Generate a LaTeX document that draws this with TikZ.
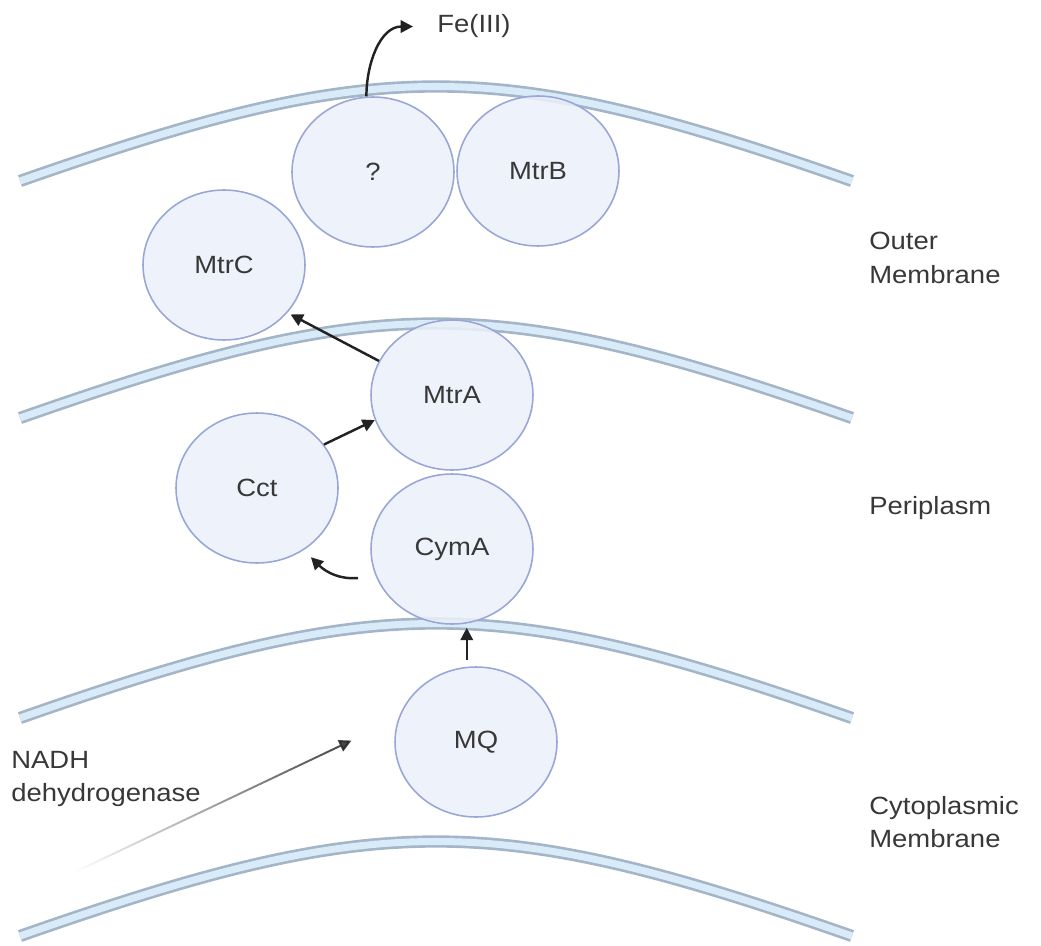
\documentclass[tikz,border=0pt]{standalone}
\usepackage{fontspec}
\setmainfont{Liberation Sans}
\usetikzlibrary{shapes.geometric,arrows.meta,fadings}

\definecolor{membraneedge}{HTML}{A3B5C6}
\definecolor{membranefill}{HTML}{D9EAF8}
\definecolor{proteinedge}{HTML}{9AA6D6}
\definecolor{proteinfill}{HTML}{EBF1FA}
\definecolor{labeltext}{HTML}{383838}
\definecolor{arrowink}{HTML}{222222}

\newcommand{\wide}[1]{\scalebox{1.1}[1]{#1}}
\newcommand{\membrane}[1]{\draw[membrane] (20,-#1) .. controls (380,{-#1+126}) and (492,{-#1+126}) .. (852,-#1);}

\tikzset{
  membrane/.style={draw=membraneedge, line width=1.5pt, double=membranefill, double distance=4pt},
  protein/.style={ellipse, draw=proteinedge, line width=0.9pt, fill=proteinfill, fill opacity=0.85, text opacity=1,
    minimum width=3.24cm, minimum height=3cm, inner sep=0pt},
  flow/.style={draw=arrowink, line width=1.4pt, -{Triangle[length=7pt,width=7pt]}},
}

\begin{document}
\begin{tikzpicture}[x=0.02cm, y=0.02cm, font=\fontsize{14.2}{19}\selectfont, text=labeltext, every node/.style={align=center}]
        \useasboundingbox (0,0) rectangle (1041,-946);

        % membranes
        \membrane{181}
        \membrane{418}
        \membrane{718}
        \membrane{936}

        % proteins
        \node[protein] (unknown) at (373,-172) {\wide{?}};
        \node[protein] (mtrb) at (538,-171) {\wide{MtrB}};
        \node[protein] (mtrc) at (224,-265) {\wide{MtrC}};
        \node[protein] (mtra) at (452,-395) {\wide{MtrA}};
        \node[protein] (cct) at (257,-488) {\wide{Cct}};
        \node[protein] (cyma) at (452,-549) {\wide{CymA}};
        \node[protein] (mq) at (476,-742) {\wide{MQ}};

        % labels
        \node[anchor=base west, inner sep=0pt] (fe) at (437,-33) {\wide{Fe(III)}};
        \node[anchor=west, inner sep=0pt, align=left] (outer) at (869,-258) {\wide{Outer}\\\wide{Membrane}};
        \node[anchor=west, inner sep=0pt] (peri) at (869,-508) {\wide{Periplasm}};
        \node[anchor=west, inner sep=0pt, align=left] (cyto) at (869,-822) {\wide{Cytoplasmic}\\\wide{Membrane}};
        \node[anchor=west, inner sep=0pt, align=left] (nadh) at (11,-779) {\wide{NADH}\\\wide{dehydrogenase}};

        % electron flow
        \coordinate (cymaOut) at (358,-578);
        \coordinate (nadhTail) at (75,-872);
        \draw[flow] (unknown.95) to[out=90, in=180] ([xshift=-0.48cm]fe.west);
        \draw[flow, shorten >=2pt] (mtra.155) -- (mtrc.-37);
        \draw[flow] (cct.33) -- (mtra.198);
        \draw[flow, shorten >=0.2cm] (cymaOut) to[out=185, in=-45] (cct.-53);
        \draw[flow, shorten <=0.14cm, shorten >=0.06cm] (mq.97) -- (mq.97 |- cyma.south);
        \draw[flow, line width=1.1pt, path fading=west, shorten >=1.04cm] (nadhTail) -- (mq.163);
\end{tikzpicture}
\end{document}
